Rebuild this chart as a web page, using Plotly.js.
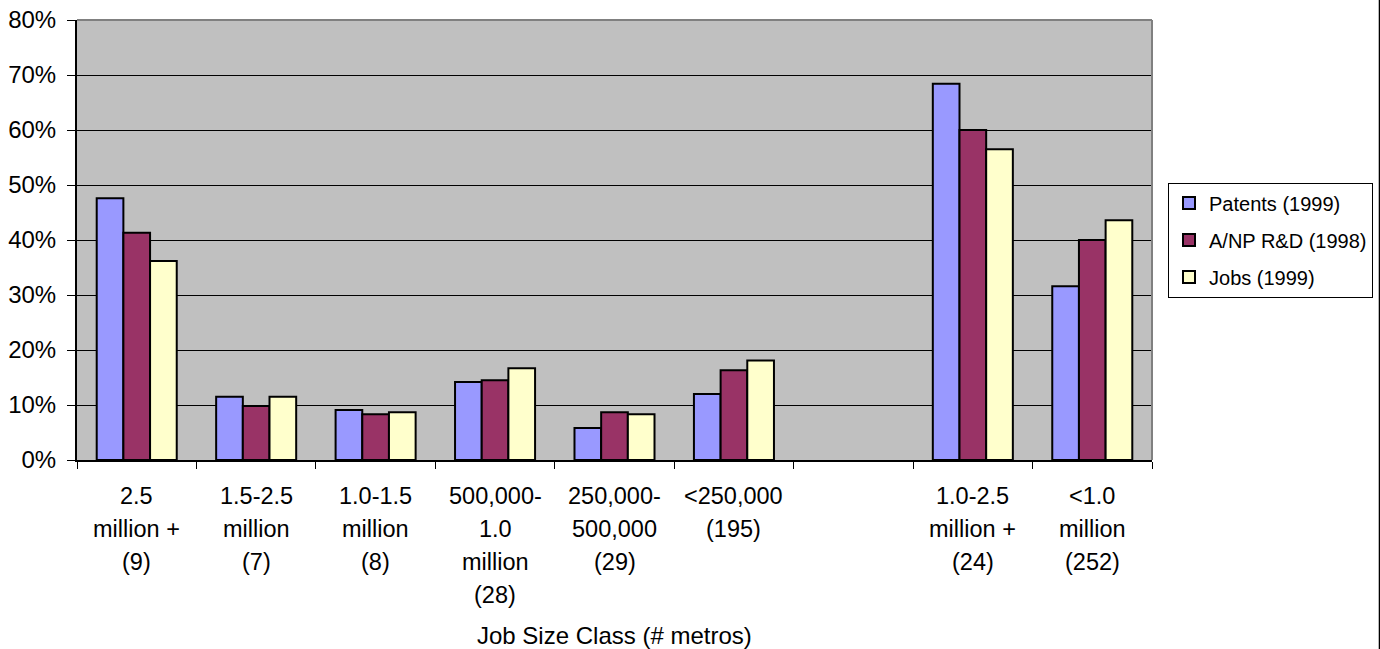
<!DOCTYPE html>
<html>
<head>
<meta charset="utf-8">
<script src="https://cdn.plot.ly/plotly-3.0.1.min.js"></script>
<style>html,body{margin:0;padding:0;background:#fff;}#chart{width:1380px;height:649px;}</style>
</head>
<body>
<div id="chart"></div>
<script>
const categories = [
  "2.5<br>million +<br>(9)",
  "1.5-2.5<br>million<br>(7)",
  "1.0-1.5<br>million<br>(8)",
  "500,000-<br>1.0<br>million<br>(28)",
  "250,000-<br>500,000<br>(29)",
  "<250,000<br>(195)",
  " ",
  "1.0-2.5<br>million +<br>(24)",
  "<1.0<br>million<br>(252)"
];
const seriesNames = ["Patents (1999)", "A/NP R&D (1998)", "Jobs (1999)"];
const patents = [0.476, 0.115, 0.091, 0.142, 0.058, 0.120, null, 0.684, 0.316];
const anpRD   = [0.413, 0.098, 0.083, 0.145, 0.087, 0.163, null, 0.600, 0.400];
const jobs    = [0.362, 0.115, 0.087, 0.167, 0.083, 0.181, null, 0.565, 0.436];
const xTitle = "Job Size Class (# metros)";

const colors = ["#9999FF", "#993366", "#FFFFCC"];
const FONT = "Liberation Sans, Arial, sans-serif";

const traces = [patents, anpRD, jobs].map((vals, k) => ({
  type: "bar",
  name: seriesNames[k],
  x: categories,
  y: vals,
  legendgroup: "g" + k,
  marker: {color: colors[k], line: {color: "#000", width: 2}},
  hoverinfo: "y+name"
}));

const annotations = [];
categories.forEach((c, i) => {
  c.split("<br>").forEach((line, j) => {
    if (line.trim() === "") return;
    annotations.push({
      x: i, xref: "x", y: 0, yref: "paper",
      text: line, showarrow: false,
      xanchor: "center", yanchor: "middle",
      yshift: -(36 + 33 * j),
      font: {family: FONT, size: 23.5, color: "#000"}
    });
  });
});
annotations.push({
  x: 0.5, xref: "paper", y: 0, yref: "paper",
  text: xTitle, showarrow: false,
  xanchor: "center", yanchor: "middle", yshift: -175,
  font: {family: FONT, size: 24, color: "#000"}
});

const layout = {
  width: 1380, height: 649,
  margin: {l: 77, r: 228, t: 20, b: 189, pad: 0, autoexpand: false},
  paper_bgcolor: "#fff",
  plot_bgcolor: "#C0C0C0",
  font: {family: FONT, size: 22, color: "#000"},
  barmode: "group",
  bargap: 0.33,
  bargroupgap: 0,
  showlegend: true,
  legend: {
    x: 1.0149, xanchor: "left", y: 0.5, yanchor: "middle",
    bgcolor: "#fff", bordercolor: "#000", borderwidth: 1,
    font: {family: FONT, size: 20, color: "#000"},
    tracegroupgap: 8, traceorder: "grouped"
  },
  xaxis: {
    type: "category",
    categoryorder: "array", categoryarray: categories,
    range: [-0.5, categories.length - 0.5],
    showticklabels: false,
    ticks: "outside", tickson: "boundaries", ticklen: 7, tickwidth: 1, tickcolor: "#000",
    showline: true, linecolor: "#000", linewidth: 1.5,
    showgrid: false, zeroline: false, fixedrange: true
  },
  yaxis: {
    range: [0, 0.8], dtick: 0.1, tick0: 0, tickformat: ".0%",
    ticks: "outside", ticklen: 8, tickwidth: 1, tickcolor: "#000",
    ticklabelstandoff: 6,
    showline: true, linecolor: "#000", linewidth: 2,
    showgrid: true, gridcolor: "#000", gridwidth: 1,
    zeroline: false, fixedrange: true,
    tickfont: {family: FONT, size: 24, color: "#000"}
  },
  shapes: [
    {type: "line", xref: "paper", yref: "paper", x0: 0, x1: 1, y0: 1, y1: 1, line: {color: "#808080", width: 2}},
    {type: "line", xref: "paper", yref: "paper", x0: 1, x1: 1, y0: 0, y1: 1, line: {color: "#808080", width: 2}},
    {type: "line", xref: "paper", yref: "paper", x0: 1.2116, x1: 1.2116, y0: -0.43, y1: 1.05, line: {color: "#000", width: 1.5}}
  ],
  annotations: annotations
};

Plotly.newPlot("chart", traces, layout, {displayModeBar: false, staticPlot: true});
</script>
</body>
</html>
